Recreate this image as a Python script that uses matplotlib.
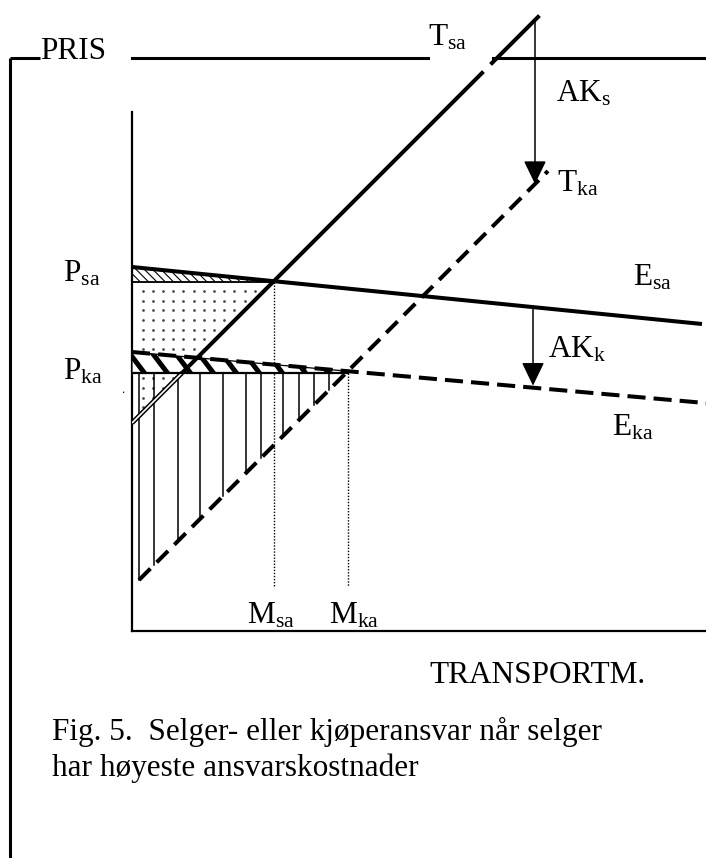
import matplotlib
matplotlib.use("Agg")
import matplotlib.pyplot as plt
import numpy as np
from matplotlib.patches import Polygon

plt.rcParams['font.family'] = ['Liberation Serif', 'DejaVu Serif']
plt.rcParams['mathtext.fontset'] = 'custom'
plt.rcParams['mathtext.rm'] = 'Liberation Serif'
plt.rcParams['mathtext.it'] = 'Liberation Serif:italic'
plt.rcParams['hatch.linewidth'] = 0.8

# chart units: q = transport quantity, p = price (origin in the axis corner)
q_max, p_max = 574, 519
tsa = (208, 1.0)        # intercept, slope
tka = (44, 1.0)
esa = (364, -0.1)
eka = (279, -0.089)
p_sa = 349
p_ka = 258
tsa_end = 406
tsa_gap = [350, 360]
tka_span = [7, 416]
esa_end = 568
eka_end = 574
ak_s_q = 403
ak_k_q = 401
hatch_q = [7, 22, 46, 68, 91, 114, 129, 151, 167, 182, 197]
m_foot = 45


def val(c, q):
    return c[0] + c[1] * np.asarray(q, dtype=float)


def cross(a, b):
    return (b[0] - a[0]) / (a[1] - b[1])


m_sa = cross(tsa, esa)
m_ka = cross(tka, eka)
q_psa = (p_sa - tsa[0]) / tsa[1]
q_pka = (p_ka - tsa[0]) / tsa[1]

fig = plt.figure(figsize=(7.06, 8.58), dpi=100)
W, H = 706, 858
base = fig.add_axes([0, 0, 1, 1])
base.set_xlim(0, W)
base.set_ylim(H, 0)
base.axis('off')

# outer frame
blw = 2.2
base.plot([10, 10], [58, H], color='black', lw=blw, solid_capstyle='butt')
base.plot([10, 40], [58, 58], color='black', lw=blw, solid_capstyle='butt')
base.plot([132, 428], [58, 58], color='black', lw=blw)
base.plot([493, W], [58, 58], color='black', lw=blw)
base.text(40, 59, 'PRIS', fontsize=22.5, va='baseline')
base.text(429, 683, 'TRANSPORTM.', fontsize=22.5, va='baseline')
base.text(52, 740, 'Fig. 5.  Selger- eller kjøperansvar når selger', fontsize=22.5, va='baseline')
base.text(52, 776, 'har høyeste ansvarskostnader', fontsize=22.5, va='baseline')

ax = fig.add_axes([132 / W, (H - 631) / H, q_max / W, p_max / H])
ax.set_xlim(0, q_max)
ax.set_ylim(0, p_max)
ax.patch.set_alpha(0)
for s in ['top', 'right']:
    ax.spines[s].set_visible(False)
for s in ['left', 'bottom']:
    ax.spines[s].set_linewidth(1.6)
ax.set_xticks([])
ax.set_yticks([])

# dotted area: between axis, P_sa and T_sa
tri = Polygon([[0, p_sa], [q_psa, p_sa], [0, tsa[0]]], closed=True,
              transform=ax.transData, facecolor='none', edgecolor='none')
ax.add_patch(tri)
gq, gp = np.meshgrid(np.arange(10.5, 150, 10.2), np.arange(p_sa - 9, tsa[0], -9.7))
dots = ax.scatter(gq.ravel(), gp.ravel(), s=4, color='0.3', linewidths=0, zorder=1)
dots.set_clip_path(tri)

# fine hatch between E_sa and P_sa
top_sa = Polygon([[0, val(esa, 0)], [m_sa, val(esa, m_sa)], [m_sa, p_sa], [0, p_sa]],
                 closed=True, facecolor='white', edgecolor='black', lw=0.8,
                 hatch='\\\\\\\\', zorder=2)
ax.add_patch(top_sa)

# vertical lines between P_ka and T_ka
for q in hatch_q:
    ax.plot([q, q], [p_ka, val(tka, q)], color='black', lw=1.1, zorder=2)

# thick stripes between E_ka and P_ka
top_ka = Polygon([[0, val(eka, 0)], [m_ka, val(eka, m_ka)], [m_ka, p_ka], [0, p_ka]],
                 closed=True, facecolor='white', edgecolor='black', lw=0.9, zorder=3)
ax.add_patch(top_ka)
for q0 in np.arange(-8, m_ka + 20, 23):
    ln, = ax.plot([q0, q0 + 25], [p_ka + 27, p_ka - 6], color='black', lw=3.6,
                  solid_capstyle='butt', zorder=3)
    ln.set_clip_path(top_ka)

# dotted M lines
ax.plot([m_sa, m_sa], [p_sa, m_foot], color='black', lw=1.0, ls=(0, (1, 1.2)), zorder=2)
ax.plot([m_ka, m_ka], [p_ka, m_foot], color='black', lw=1.0, ls=(0, (1, 1.2)), zorder=2)

# supply curves
lw = 2.9
q1 = np.array([q_pka, tsa_gap[0]])
ax.plot(q1, val(tsa, q1), color='black', lw=lw, zorder=4, clip_on=False)
q2 = np.array([tsa_gap[1], tsa_end])
ax.plot(q2, val(tsa, q2), color='black', lw=lw, zorder=4, clip_on=False)
q0 = np.array([0, q_pka])
ax.plot(q0, val(tsa, q0), color='black', lw=3.4, zorder=4, solid_capstyle='butt')
ax.plot(q0, val(tsa, q0), color='white', lw=1.2, zorder=4, solid_capstyle='butt')

qk = np.array(tka_span, dtype=float)
ax.plot(qk, val(tka, qk), color='black', lw=lw, dashes=(4, 2.2), zorder=4, clip_on=False)

# demand curves
qe = np.array([0, esa_end])
ax.plot(qe, val(esa, qe), color='black', lw=lw, zorder=4)
qe2 = np.array([0, eka_end])
ax.plot(qe2, val(eka, qe2), color='black', lw=lw, dashes=(4.5, 2), zorder=4)

# price levels
ax.plot([0, q_psa], [p_sa, p_sa], color='black', lw=1.2, zorder=4)
ax.plot([0, m_ka], [p_ka, p_ka], color='black', lw=1.6, zorder=4)

# shift arrows
arr = dict(arrowstyle='-|>,head_length=1.45,head_width=0.7', color='black', lw=1.1,
           shrinkA=0, shrinkB=0, mutation_scale=10)
ax.annotate('', xy=(ak_s_q, val(tka, ak_s_q)), xytext=(ak_s_q, val(tsa, ak_s_q)),
            arrowprops=arr, annotation_clip=False, zorder=5)
ax.annotate('', xy=(ak_k_q, val(eka, ak_k_q) + 2), xytext=(ak_k_q, val(esa, ak_k_q)),
            arrowprops=arr, annotation_clip=False, zorder=5)

labels = [
    (r'$\mathrm{T}_{\mathrm{sa}}$', 296, 586),
    (r'$\mathrm{AK}_{\mathrm{s}}$', 424, 529),
    (r'$\mathrm{T}_{\mathrm{ka}}$', 425, 439),
    (r'$\mathrm{P}_{\mathrm{sa}}$', -69, 349),
    (r'$\mathrm{P}_{\mathrm{ka}}$', -69, 251),
    (r'$\mathrm{E}_{\mathrm{sa}}$', 501, 346),
    (r'$\mathrm{AK}_{\mathrm{k}}$', 416, 273),
    (r'$\mathrm{E}_{\mathrm{ka}}$', 480, 196),
    (r'$\mathrm{M}_{\mathrm{sa}}$', 115, 8),
    (r'$\mathrm{M}_{\mathrm{ka}}$', 197, 8),
]
for txt, lq, lp in labels:
    ax.text(lq, lp, txt, fontsize=22.5, va='baseline', ha='left')
ax.text(-11, 238, '.', fontsize=9)

fig.savefig('out.png', dpi=100)
